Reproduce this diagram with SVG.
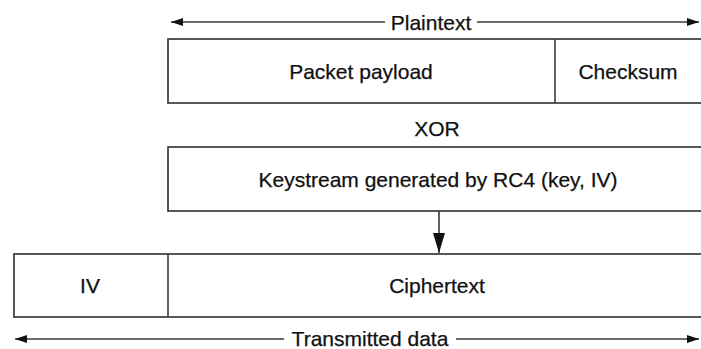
<svg xmlns="http://www.w3.org/2000/svg" width="701" height="349" viewBox="0 0 701 349">
<style>
.box{fill:#fff;stroke:#3a3a3a;stroke-width:1.7}
.ln{stroke:#3a3a3a;stroke-width:1.6;fill:none}
.t{font-family:"Liberation Sans",Arial,sans-serif;font-size:21px;fill:#111;text-anchor:middle;stroke:#111;stroke-width:0.25}
</style>
<defs>
<marker id="ah" viewBox="0 0 12 8" refX="12" refY="4" markerWidth="12" markerHeight="8" markerUnits="userSpaceOnUse" orient="auto-start-reverse">
<path d="M0,0 L12,4 L0,8 Z" fill="#111"/>
</marker>
<marker id="ahd" viewBox="0 0 20 12" refX="20" refY="6" markerWidth="20" markerHeight="12" markerUnits="userSpaceOnUse" orient="auto">
<path d="M0,0 L20,6 L0,12 Z" fill="#111"/>
</marker>
</defs>
<rect width="701" height="349" fill="#fff"/>
<g id="plaintext-label">
<text class="t" x="431" y="30">Plaintext</text>
</g>
<g id="payload">
<rect class="box" x="168" y="39" width="560" height="64"/>
<line class="ln" x1="555" y1="39" x2="555" y2="103"/>
<text class="t" x="361" y="79">Packet payload</text>
<text class="t" x="628" y="79">Checksum</text>
</g>
<g id="xor">
<text class="t" x="437" y="136">XOR</text>
</g>
<g id="keystream">
<rect class="box" x="168" y="147" width="560" height="64"/>
<text class="t" x="438" y="187">Keystream generated by RC4 (key, IV)</text>
</g>
<g id="cipher">
<rect class="box" x="14" y="254" width="714" height="63"/>
<line class="ln" x1="168" y1="254" x2="168" y2="317"/>
<text class="t" x="90" y="293">IV</text>
<text class="t" x="437" y="293">Ciphertext</text>
</g>
<g id="transmitted-label">
<text class="t" x="370" y="346">Transmitted data</text>
</g>
<g id="connectors">
<line class="ln" x1="385" y1="22" x2="171" y2="22" marker-end="url(#ah)"/>
<line class="ln" x1="477" y1="22" x2="699" y2="22" marker-end="url(#ah)"/>
<line class="ln" x1="439" y1="211" x2="439" y2="253" stroke-width="2" marker-end="url(#ahd)"/>
<line class="ln" x1="284" y1="339" x2="15" y2="339" marker-end="url(#ah)"/>
<line class="ln" x1="456" y1="339" x2="699" y2="339" marker-end="url(#ah)"/>
</g>
</svg>
